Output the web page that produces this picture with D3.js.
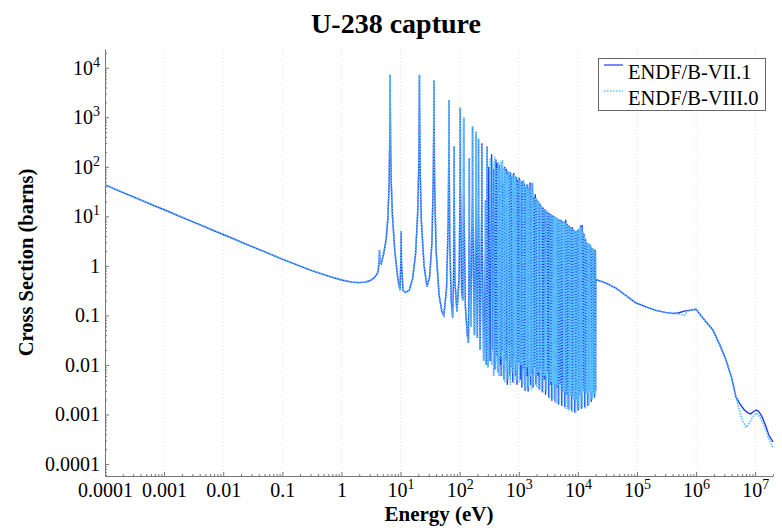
<!DOCTYPE html>
<html>
<head>
<meta charset="utf-8">
<script src="https://cdn.jsdelivr.net/npm/d3@7"></script>
<style>
  body { margin: 0; background: #fff; }
  svg { display: block; font-family: 'Liberation Serif', 'Times New Roman', serif; }
</style>
</head>
<body>
<svg id="chart" width="782" height="531"></svg>
<script>
// thermal range, same in both libraries
var thermalE  = [1e-4, 3e-4, 1e-3, 3e-3, 0.01, 0.03, 0.1, 0.3, 0.6, 1, 1.5, 2, 2.5, 3, 3.5, 4];
var thermalXS = [43, 24.8, 13.6, 7.85, 4.3, 2.48, 1.37, 0.82, 0.62, 0.52, 0.47, 0.46, 0.47, 0.5, 0.56, 0.68];

// isolated resonances 4 - 300 eV, same in both libraries
var isolatedE = [4.2, 4.35, 4.41, 4.47, 4.7, 5.2, 5.7, 6.1, 6.4, 6.55, 6.62, 6.67, 6.72, 6.8, 6.95, 7.3, 8, 9, 9.8,
  10.15, 10.24, 10.35, 11, 12, 14, 16, 18, 19.5, 20.4, 20.75, 20.87, 21.0, 21.4, 22.5, 25, 28, 31, 34, 35.8, 36.5,
  36.68, 36.9, 37.6, 40, 45, 50, 54, 60, 64, 65.6, 66.03, 66.5, 68, 72, 76, 79, 80.5, 80.75, 81, 83, 90, 98,
  101.8, 102.5, 103.2, 108, 113, 116.3, 116.9, 117.5, 125, 135, 141, 145.2, 145.7, 146.3, 155, 164.8, 165.3,
  165.9, 178, 189.2, 189.7, 190.3, 199, 208, 208.5, 209.1, 222, 237, 237.4, 238, 255, 273.3, 273.7, 274.2, 282,
  290.6, 291, 291.5, 300];
var isolatedXS = [0.8, 1.3, 2.1, 1.2, 1.1, 1.8, 3.4, 9, 45, 250, 1500, 7200, 1500, 250, 50, 10, 2, 0.55, 0.32,
  1.5, 5, 1.2, 0.32, 0.29, 0.32, 0.55, 1.8, 12, 120, 1500, 7200, 1500, 100, 8, 1, 0.38, 0.6, 3, 60, 900,
  5500, 800, 50, 2, 0.25, 0.12, 0.1, 0.35, 8, 200, 2200, 150, 3, 0.2, 0.09, 0.6, 30, 256, 25, 0.5, 0.12, 0.6,
  50, 1550, 40, 0.3, 0.2, 40, 980, 30, 0.15, 0.04, 0.028, 8, 150, 6, 0.06, 30, 650,
  20, 0.04, 25, 510, 15, 0.035, 20, 370, 12, 0.02, 18, 300, 10, 0.012, 2, 21, 1.5, 0.01,
  15, 256, 8, 0.009];

// dense resolved region 0.3 - 20 keV
var denseE_VII1 = [311, 328, 347, 362, 377, 394, 410, 422, 434, 448, 463, 477, 491, 505, 518, 533, 549, 565, 580, 600,
  619, 640, 661, 676, 692, 706, 721, 742, 765, 792, 821, 836, 851, 878, 905, 930, 958, 990, 1023, 1060,
  1098, 1130, 1167, 1205, 1245, 1280, 1317, 1360, 1405, 1440, 1475, 1510, 1549, 1590, 1638, 1670, 1708, 1745, 1782, 1840,
  1902, 1960, 2023, 2090, 2154, 2220, 2284, 2350, 2421, 2500, 2581, 2670, 2752, 2840, 2925, 3010, 3112, 3210, 3310, 3410,
  3512, 3630, 3745, 3870, 3990, 4120, 4250, 4390, 4530, 4680, 4830, 4990, 5150, 5320, 5490, 5670, 5850, 6040, 6240, 6440,
  6650, 6870, 7090, 7320, 7560, 7810, 8060, 8320, 8590, 8870, 9160, 9460, 9770, 10090, 10420, 10760, 11110, 11470, 11840, 12230,
  12630, 13040, 13460, 13900, 14350, 14820, 15300, 15800, 16320, 16850, 17400, 17970, 18560, 19160, 19790, 19950];
var denseXS_VII1 = [100, 0.012, 180, 0.02, 90, 0.008, 140, 0.015, 120, 0.007, 110, 0.01, 60, 0.006, 105, 0.02, 45, 0.005, 100, 0.012,
  90, 0.004, 80, 0.025, 70, 0.006, 78, 0.009, 65, 0.0045, 75, 0.015, 40, 0.006, 62, 0.004, 55, 0.011, 60, 0.005,
  50, 0.0035, 52, 0.008, 46, 0.003, 40, 0.006, 44, 0.0029, 38, 0.012, 48, 0.004, 30, 0.007, 47, 0.0035, 25, 0.009,
  28, 0.004, 22, 0.006, 20, 0.0032, 18, 0.008, 16, 0.0028, 15, 0.005, 14, 0.0025, 13, 0.007, 12, 0.0022, 11.5, 0.004,
  11, 0.0019, 10.5, 0.005, 10, 0.0018, 9.5, 0.0035, 9, 0.0016, 8.5, 0.004, 8.5, 0.0015, 8, 0.003, 7.8, 0.0014, 8.5, 0.0025,
  7, 0.0013, 6.5, 0.003, 6, 0.0012, 6, 0.0022, 5.3, 0.0011, 5, 0.002, 5.2, 0.0012, 5.5, 0.0025, 6.5, 0.0013, 6.7, 0.003,
  4.5, 0.0014, 3.5, 0.0028, 2.9, 0.0015, 2.8, 0.003, 2.6, 0.0018, 2.3, 0.0026, 2.2, 0.0022, 2.1, 0.003];
var denseE_VIII0 = [330, 347, 362, 377, 394, 410, 422, 434, 448, 463, 477, 491, 505, 518, 533, 549, 565, 580, 600, 619,
  640, 661, 676, 692, 706, 721, 742, 765, 792, 821, 836, 851, 878, 905, 930, 958, 990, 1023, 1060, 1098,
  1130, 1167, 1205, 1245, 1280, 1317, 1360, 1405, 1440, 1475, 1510, 1549, 1590, 1638, 1670, 1708, 1745, 1782, 1840, 1902,
  1960, 2023, 2090, 2154, 2220, 2284, 2350, 2421, 2500, 2581, 2670, 2752, 2840, 2925, 3010, 3112, 3210, 3310, 3410, 3512,
  3630, 3745, 3870, 3990, 4120, 4250, 4390, 4530, 4680, 4830, 4990, 5150, 5320, 5490, 5670, 5850, 6040, 6240, 6440, 6650,
  6870, 7090, 7320, 7560, 7810, 8060, 8320, 8590, 8870, 9160, 9460, 9770, 10090, 10420, 10760, 11110, 11470, 11840, 12230, 12630,
  13040, 13460, 13900, 14350, 14820, 15300, 15800, 16320, 16850, 17400, 17970, 18560, 19160, 19790, 19950];
var denseXS_VIII0 = [150, 0.01, 130, 0.006, 160, 0.012, 95, 0.008, 125, 0.006, 85, 0.014, 130, 0.006, 137, 0.01, 95, 0.0045, 85,
  0.008, 70, 0.005, 82, 0.012, 60, 0.004, 76, 0.007, 70, 0.0042, 58, 0.01, 66, 0.005, 50, 0.008, 63, 0.0045, 55, 0.01,
  48, 0.004, 54, 0.0065, 42, 0.0032, 45, 0.009, 36, 0.0035, 40, 0.006, 33, 0.003, 48, 0.008, 30, 0.004, 23, 0.006,
  24, 0.0035, 21, 0.007, 19, 0.0033, 17, 0.005, 15.5, 0.0027, 14.5, 0.006, 13.5, 0.003, 13, 0.005, 11.5, 0.0021, 11, 0.0045,
  10.5, 0.002, 10, 0.004, 9.8, 0.0017, 9, 0.0038, 8.8, 0.0016, 8.2, 0.003, 8, 0.0015, 7.8, 0.0028, 7.5, 0.0013, 7.2, 0.0026,
  6.5, 0.0012, 6, 0.0024, 5.8, 0.0011, 5.5, 0.002, 5, 0.00105, 5.3, 0.0018, 5.6, 0.0013, 6, 0.0024, 6.2, 0.0014, 5, 0.0028,
  4, 0.0013, 3.2, 0.0026, 2.9, 0.0016, 2.8, 0.0028, 2.5, 0.002, 2.3, 0.0024, 2.2, 0.0025, 2.0];

// unresolved + fast range
var fastE_VII1  = [20050, 30000, 44000, 60000, 95000, 1.5e5, 2.1e5, 3e5, 4e5, 5e5, 6.3e5, 8e5, 1e6, 1.2e6, 1.5e6, 1.9e6,
  2.5e6, 3.2e6, 4e6, 4.7e6, 5.4e6, 6.5e6, 7.5e6, 8.4e6, 9.4e6, 1.05e7, 1.15e7, 1.3e7, 1.5e7, 1.7e7, 2e7];
var fastXS_VII1 = [0.53, 0.45, 0.355, 0.27, 0.18, 0.145, 0.126, 0.115, 0.11, 0.112, 0.122, 0.128, 0.133, 0.1, 0.072, 0.052,
  0.026, 0.0126, 0.0055, 0.0023, 0.0017, 0.00125, 0.00108, 0.00103, 0.00115, 0.00123, 0.00115, 0.00091, 0.0006, 0.00038, 0.00028];
var fastE_VIII0  = [20050, 30000, 44000, 60000, 95000, 1.5e5, 2.1e5, 3e5, 4e5, 5e5, 6.3e5, 7e5, 8e5, 1e6, 1.2e6, 1.5e6, 1.9e6,
  2.5e6, 3.2e6, 4e6, 4.7e6, 5.4e6, 6e6, 7e6, 8e6, 9e6, 1.05e7, 1.2e7, 1.5e7, 1.7e7, 2e7];
var fastXS_VIII0 = [0.53, 0.45, 0.355, 0.27, 0.18, 0.145, 0.126, 0.115, 0.11, 0.108, 0.1, 0.118, 0.128, 0.133, 0.1, 0.072, 0.052,
  0.026, 0.0126, 0.0055, 0.0023, 0.0012, 0.0008, 0.00055, 0.00068, 0.00088, 0.00107, 0.0009, 0.0005, 0.00033, 0.00021];

var seriesNames = ['ENDF/B-VII.1', 'ENDF/B-VIII.0'];

var xTickValues = [1e-4, 1e-3, 1e-2, 0.1, 1, 10, 100, 1e3, 1e4, 1e5, 1e6, 1e7];
var xTickLabels = ['0.0001', '0.001', '0.01', '0.1', '1', '10^1', '10^2', '10^3', '10^4', '10^5', '10^6', '10^7'];
var yTickValues = [1e-4, 1e-3, 1e-2, 0.1, 1, 10, 100, 1e3, 1e4];
var yTickLabels = ['0.0001', '0.001', '0.01', '0.1', '1', '10^1', '10^2', '10^3', '10^4'];

function zip(es, xs) {
    return es.map(function (e, i) { return [e, xs[i]]; });
}

function drawChart() {
    var dataVII1 = zip(thermalE, thermalXS).concat(zip(isolatedE, isolatedXS), zip(denseE_VII1, denseXS_VII1), zip(fastE_VII1, fastXS_VII1));
    var dataVIII0 = zip(thermalE, thermalXS).concat(zip(isolatedE, isolatedXS), zip(denseE_VIII0, denseXS_VIII0), zip(fastE_VIII0, fastXS_VIII0));

    var svg = d3.select('#chart');
    var plotLeft = 105, plotRight = 773, plotTop = 49, plotBottom = 476;

    var x = d3.scaleLog().domain([1e-4, 2e7]).range([plotLeft, plotRight]);
    var y = d3.scaleLog().domain([5.73e-5, 2.39e4]).range([plotBottom, plotTop]);

    var blue = '#1f3af2', lightBlue = '#5cc0fd';

    // vertical dotted grid at decades
    svg.append('g').selectAll('line')
        .data(xTickValues.slice(1))
        .enter().append('line')
        .attr('x1', function (d) { return x(d); })
        .attr('x2', function (d) { return x(d); })
        .attr('y1', plotTop)
        .attr('y2', plotBottom)
        .attr('stroke', '#e2e2e2')
        .attr('stroke-dasharray', '1,2');

    // minor ticks
    var xMinor = [], yMinor = [];
    xTickValues.forEach(function (d) {
        [2, 3, 4, 5, 6, 7, 8, 9].forEach(function (m) { if (d * m <= 2e7) xMinor.push(d * m); });
    });
    yTickValues.forEach(function (d) {
        [2, 3, 4, 5, 6, 7, 8, 9].forEach(function (m) { if (d * m <= 2.39e4) yMinor.push(d * m); });
    });
    [6e-5, 7e-5, 8e-5, 9e-5].forEach(function (d) { yMinor.push(d); });

    function supLabels(sel, labels) {
        sel.selectAll('.tick text').each(function (d, i) {
            var t = d3.select(this).text('');
            var parts = labels[i].split('^');
            t.append('tspan').text(parts[0]);
            if (parts[1]) {
                t.append('tspan').attr('dy', -8).attr('font-size', 14).text(parts[1]);
            }
        });
    }

    var gx = svg.append('g').attr('transform', 'translate(0,' + plotBottom + ')')
        .call(d3.axisBottom(x).tickValues(xTickValues).tickSize(-4).tickSizeOuter(0).tickPadding(7));
    supLabels(gx, xTickLabels);
    svg.append('g').attr('transform', 'translate(0,' + plotBottom + ')')
        .call(d3.axisBottom(x).tickValues(xMinor).tickSize(-2).tickFormat(''))
        .select('.domain').remove();

    var gy = svg.append('g').attr('transform', 'translate(' + plotLeft + ',0)')
        .call(d3.axisLeft(y).tickValues(yTickValues).tickSize(-4).tickSizeOuter(0).tickPadding(5));
    supLabels(gy, yTickLabels);
    svg.append('g').attr('transform', 'translate(' + plotLeft + ',0)')
        .call(d3.axisLeft(y).tickValues(yMinor).tickSize(-2).tickFormat(''))
        .select('.domain').remove();

    svg.selectAll('.domain, .tick line').attr('stroke', '#777');
    svg.selectAll('.tick text').attr('font-size', 20).attr('fill', '#000');
    svg.selectAll('g').attr('font-family', null).attr('font-size', null);

    // curves
    var line = d3.line()
        .x(function (d) { return x(d[0]); })
        .y(function (d) { return y(d[1]); });

    svg.append('path')
        .datum(dataVII1)
        .attr('d', line)
        .attr('fill', 'none')
        .attr('stroke', blue)
        .attr('stroke-width', 1.4);

    svg.append('path')
        .datum(dataVIII0)
        .attr('d', line)
        .attr('fill', 'none')
        .attr('stroke', lightBlue)
        .attr('stroke-width', 1.8)
        .attr('stroke-dasharray', '1.5,1.3');

    // titles
    svg.append('text')
        .attr('x', 396).attr('y', 33)
        .attr('text-anchor', 'middle')
        .attr('font-size', 28).attr('font-weight', 'bold')
        .text('U-238 capture');

    svg.append('text')
        .attr('x', (plotLeft + plotRight) / 2).attr('y', 521)
        .attr('text-anchor', 'middle')
        .attr('font-size', 21).attr('font-weight', 'bold')
        .text('Energy (eV)');

    svg.append('text')
        .attr('transform', 'translate(33,' + (plotTop + plotBottom) / 2 + ') rotate(-90)')
        .attr('text-anchor', 'middle')
        .attr('font-size', 20.5).attr('font-weight', 'bold')
        .text('Cross Section (barns)');

    // legend
    var lg = svg.append('g');
    lg.append('rect')
        .attr('x', 598.5).attr('y', 58.5).attr('width', 167).attr('height', 52)
        .attr('fill', '#fff').attr('stroke', '#666');
    var legendStyles = [
        { color: blue, dash: null, w: 1.2 },
        { color: lightBlue, dash: '1.5,1.5', w: 1.4 }
    ];
    seriesNames.forEach(function (name, i) {
        var yy = 65 + i * 26;
        lg.append('line')
            .attr('x1', 604).attr('x2', 623).attr('y1', yy).attr('y2', yy)
            .attr('stroke', legendStyles[i].color)
            .attr('stroke-width', legendStyles[i].w)
            .attr('stroke-dasharray', legendStyles[i].dash);
        lg.append('text')
            .attr('x', 628).attr('y', 79 + i * 26)
            .attr('font-size', 20.5)
            .text(name);
    });
}

drawChart();
</script>
</body>
</html>
